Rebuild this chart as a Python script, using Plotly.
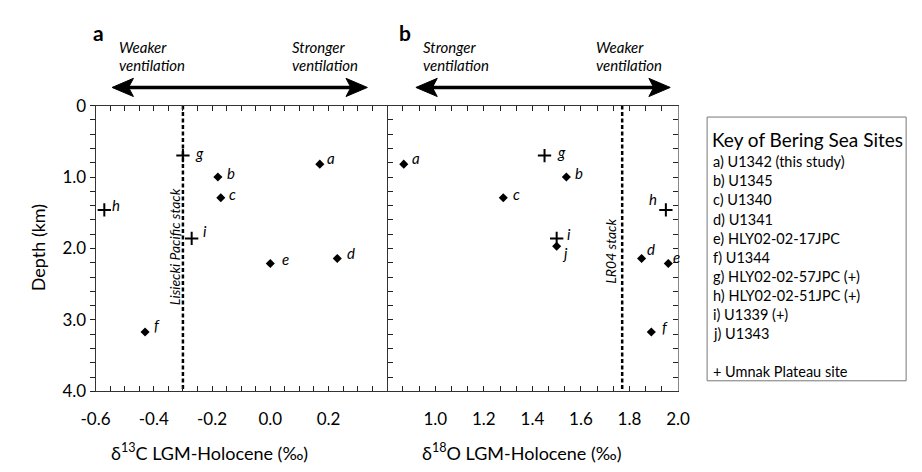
import plotly.graph_objects as go

# ---------------- data ----------------
sites = ["a", "b", "c", "d", "e", "f", "g", "h", "i", "j"]
depth_km = [0.82, 1.00, 1.29, 2.14, 2.21, 3.17, 0.70, 1.46, 1.86, 1.97]
d13c = [0.17, -0.18, -0.17, 0.23, 0.00, -0.43, -0.30, -0.57, -0.27, None]
d18o = [0.87, 1.54, 1.28, 1.85, 1.96, 1.89, 1.45, 1.95, 1.50, 1.50]
umnak = [False, False, False, False, False, False, True, True, True, False]

lisiecki_d13c = -0.30
lr04_d18o = 1.77

key_entries = [
    "a) U1342 (this study)", "b) U1345", "c) U1340", "d) U1341",
    "e) HLY02-02-17JPC", "f) U1344", "g) HLY02-02-57JPC (+)",
    "h) HLY02-02-51JPC (+)", "i) U1339 (+)", "j) U1343",
]
key_note = "+ Umnak Plateau site"

x1_labels = {-0.6: "-0.6", -0.4: "-0.4", -0.2: "-0.2", 0.0: "0.0", 0.2: "0.2"}
x2_labels = {1.0: "1.0", 1.2: "1.2", 1.4: "1.4", 1.6: "1.6", 1.8: "1.8", 2.0: "2.0"}
y_labels = {0.0: "0", 1.0: "1.0", 2.0: "2.0", 3.0: "3.0", 4.0: "4.0"}

# ---------------- layout helpers ----------------
W, H = 922, 472
FONT = "Lato"


def px(xp):
    return xp / W


def py(yp):
    return 1 - yp / H


def alias_for(start, step, n, fmt, labels):
    """map plotly's formatted tick text to the wanted label (blank if unlabeled)"""
    alias = {}
    for k in range(n + 1):
        v = start + step * k
        lab = ""
        for lv, t in labels.items():
            if abs(v - lv) < 1e-6:
                lab = t
        s = format(v, fmt)
        if s in ("-0.00", "-0.0"):
            s = s[1:]
        alias[s] = lab
        alias[s.replace("-", "\u2212")] = lab
    return alias


X1_START, X1_STEP, X1_N = -0.6, 0.05, 20
X2_START, X2_STEP, X2_N = 0.8, 1.2 / 18, 18
Y_START, Y_STEP, Y_N = 0.0, 0.2, 20
x1_alias = alias_for(X1_START, X1_STEP, X1_N, ".2f", x1_labels)
x2_alias = alias_for(X2_START, X2_STEP, X2_N, ".2f", x2_labels)
y_alias = alias_for(Y_START, Y_STEP, Y_N, ".1f", y_labels)

# label offsets (pixels: right, up)
off_a = {"a": (11, 6), "b": (13, 4), "c": (12, 4), "d": (14, 5), "e": (15, 4),
         "f": (12, 7), "g": (17, 3), "h": (12, 5), "i": (13, 7)}
off_b = {"a": (12, 6), "b": (13, 4), "c": (13, 4), "d": (9, 9), "e": (8, 6),
         "f": (14, 5), "g": (17, 4), "h": (-13, 11), "i": (12, 4), "j": (8, -7)}

fig = go.Figure()


def add_points(xvals, xa, ya):
    dx = [x for x, u in zip(xvals, umnak) if x is not None and not u]
    dy = [d for x, d, u in zip(xvals, depth_km, umnak) if x is not None and not u]
    cx = [x for x, u in zip(xvals, umnak) if x is not None and u]
    cy = [d for x, d, u in zip(xvals, depth_km, umnak) if x is not None and u]
    fig.add_trace(go.Scatter(x=dx, y=dy, mode="markers", xaxis=xa, yaxis=ya,
                             marker=dict(symbol="diamond", size=7, color="black"),
                             showlegend=False, hoverinfo="skip"))
    fig.add_trace(go.Scatter(x=cx, y=cy, mode="markers", xaxis=xa, yaxis=ya,
                             marker=dict(symbol="cross-thin", size=9.5,
                                         line=dict(color="black", width=2)),
                             showlegend=False, hoverinfo="skip"))


add_points(d13c, "x", "y")
add_points(d18o, "x2", "y2")

# reference stack lines
fig.add_trace(go.Scatter(x=[lisiecki_d13c, lisiecki_d13c], y=[0, 4], mode="lines",
                         xaxis="x", yaxis="y", line=dict(color="black", width=2.5, dash="4px,2.5px"),
                         showlegend=False, hoverinfo="skip"))
fig.add_trace(go.Scatter(x=[lr04_d18o, lr04_d18o], y=[0, 4], mode="lines",
                         xaxis="x2", yaxis="y2", line=dict(color="black", width=2.5, dash="4px,2.5px"),
                         showlegend=False, hoverinfo="skip"))

annotations = []
for s, x, d in zip(sites, d13c, depth_km):
    if x is None:
        continue
    ox, oy = off_a[s]
    annotations.append(dict(x=x, y=d, xref="x", yref="y", text="<i>%s</i>" % s,
                            showarrow=False, xshift=ox, yshift=oy,
                            font=dict(family=FONT, size=15, color="black")))
for s, x, d in zip(sites, d18o, depth_km):
    ox, oy = off_b[s]
    annotations.append(dict(x=x, y=d, xref="x2", yref="y2", text="<i>%s</i>" % s,
                            showarrow=False, xshift=ox, yshift=oy,
                            font=dict(family=FONT, size=15, color="black")))


def text_at(xp, yp, text, size, xanchor="left", yanchor="middle", angle=0, color="black"):
    annotations.append(dict(x=px(xp), y=py(yp), xref="paper", yref="paper", text=text,
                            showarrow=False, xanchor=xanchor, yanchor=yanchor, textangle=angle,
                            borderpad=0, font=dict(family=FONT, size=size, color=color)))


# panel letters
text_at(79, 22, "<b>a</b>", 21)
text_at(395, 22, "<b>b</b>", 21)

# ventilation labels
for xp, t in [(106, "Weaker"), (284, "Stronger"), (419, "Stronger"), (597, "Weaker")]:
    text_at(xp, 38, "<i>%s</i>" % t, 15)
    text_at(xp, 57, "<i>ventilation</i>", 15)

# stack labels
text_at(164, 247, "<i>Lisiecki Pacific stack</i>", 14, xanchor="center", angle=-90)
text_at(614, 252, "<i>LR04 stack</i>", 14, xanchor="center", angle=-90)

# axis titles
text_at(24, 248, "Depth (km)", 18, xanchor="center", angle=-90)
text_at(200, 462, "δ<sup>13</sup>C LGM-Holocene (‰)", 18, xanchor="center")
text_at(522, 462, "δ<sup>18</sup>O LGM-Holocene (‰)", 18, xanchor="center")

# key box
text_at(717, 134, "Key of Bering Sea Sites", 19)
for k, e in enumerate(key_entries):
    text_at(718, 158 + 19.9 * k, e, 14.5)
text_at(718, 377, key_note, 14.5)

shapes = [dict(type="rect", xref="paper", yref="paper", x0=px(713), x1=px(918),
               y0=py(387), y1=py(111), line=dict(color="#777", width=1))]


def arrow(x_left, x_right, y):
    shapes.append(dict(type="line", xref="paper", yref="paper", x0=px(x_left + 12), x1=px(x_right - 12),
                       y0=py(y), y1=py(y), line=dict(color="black", width=3.5)))
    for tip, sgn in [(x_left, 1), (x_right, -1)]:
        pts = [(tip, y), (tip + sgn * 22, y - 9.5), (tip + sgn * 17, y), (tip + sgn * 22, y + 9.5)]
        path = "M " + " L ".join("%.5f,%.5f" % (px(a), py(b)) for a, b in pts) + " Z"
        shapes.append(dict(type="path", xref="paper", yref="paper", path=path,
                           fillcolor="black", line=dict(color="black", width=1)))


arrow(100, 363, 80)
arrow(413, 675, 80)

x_dom_a = [px(83), px(383)]
x_dom_b = [px(383), px(683)]
y_dom = [py(398), py(99)]

axis_line = "#333333"
tickfont = dict(family=FONT, size=17, color="black")

common = dict(showline=True, linewidth=1, showgrid=False, zeroline=False,
              tickfont=tickfont, ticklen=5, tickwidth=1.2, tickcolor="#222222",
              tickmode="linear")

fig.update_layout(
    width=W, height=H,
    margin=dict(l=0, r=0, t=0, b=0),
    paper_bgcolor="white", plot_bgcolor="rgba(0,0,0,0)",
    showlegend=False,
    xaxis=dict(domain=x_dom_a, anchor="y", range=[-0.6, 0.4], tick0=X1_START, dtick=X1_STEP,
               tickformat=".2f", labelalias=x1_alias, ticks="inside",
               linecolor=axis_line, mirror="allticks", ticklabelstandoff=12, **common),
    yaxis=dict(domain=y_dom, anchor="x", range=[4, 0], tick0=Y_START, dtick=Y_STEP,
               tickformat=".1f", labelalias=y_alias, ticks="outside",
               linecolor=axis_line, mirror="allticks", **common),
    xaxis2=dict(domain=x_dom_b, anchor="y2", range=[0.8, 2.0], tick0=X2_START, dtick=X2_STEP,
                tickformat=".2f", labelalias=x2_alias, ticks="inside",
                linecolor=axis_line, mirror="allticks", ticklabelstandoff=12, **common),
    yaxis2=dict(domain=y_dom, anchor="x2", side="right", range=[4, 0], tick0=Y_START, dtick=Y_STEP,
                showticklabels=False, ticks="inside", linecolor="#888", **common),
    annotations=annotations,
    shapes=shapes,
)

fig.write_html("out.html")
